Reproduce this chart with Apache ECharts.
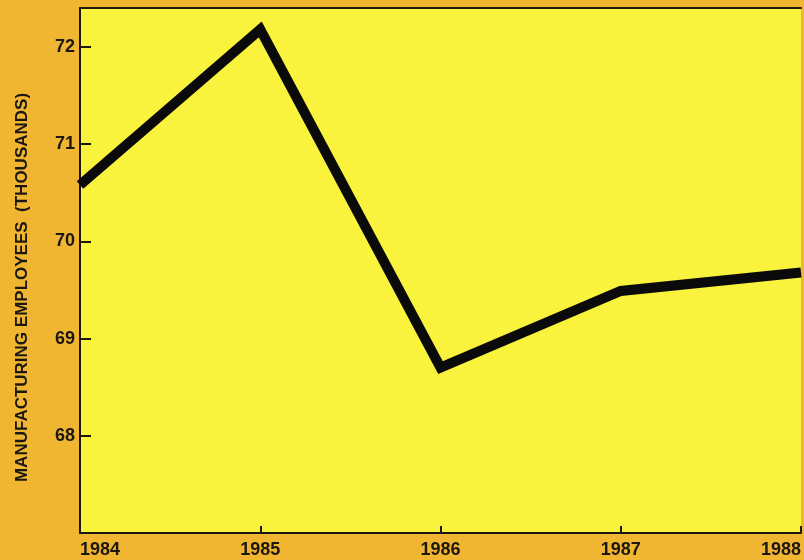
<!DOCTYPE html>
<html>
<head>
<meta charset="utf-8">
<script src="https://cdn.jsdelivr.net/npm/echarts@6/dist/echarts.min.js"></script>
<style>
html,body{margin:0;padding:0;background:#F0B632;}
#chart{width:804px;height:560px;}
</style>
</head>
<body>
<div id="chart"></div>
<script>
var years = ['1984', '1985', '1986', '1987', '1988'];
var employees = [70.58, 72.18, 68.70, 69.49, 69.68];
var yTicks = [68, 69, 70, 71, 72];
var yTitle = 'MANUFACTURING EMPLOYEES  (THOUSANDS)';

var ink = '#1c1710';
var chart = echarts.init(document.getElementById('chart'));
chart.setOption({
  backgroundColor: '#F0B632',
  animation: false,
  grid: {
    left: 80, right: 1, top: 8, bottom: 27,
    show: true, backgroundColor: '#FAF33E', borderWidth: 0
  },
  xAxis: [{
    type: 'category',
    data: years,
    boundaryGap: false,
    axisLine: {show: true, lineStyle: {color: ink, width: 2}},
    axisTick: {show: true, inside: true, length: 7, lineStyle: {color: ink, width: 2}},
    axisLabel: {
      color: ink, fontFamily: 'Liberation Sans', fontWeight: 'bold', fontSize: 18,
      margin: 8, alignMinLabel: 'left', alignMaxLabel: 'right'
    },
    splitLine: {show: false}
  }, {
    type: 'category',
    data: years,
    position: 'top',
    boundaryGap: false,
    axisLine: {show: true, lineStyle: {color: ink, width: 2}},
    axisTick: {show: false},
    axisLabel: {show: false},
    splitLine: {show: false}
  }],
  yAxis: {
    type: 'value',
    min: 67,
    max: 72.4,
    interval: 1,
    name: yTitle,
    nameLocation: 'middle',
    nameRotate: 90,
    nameGap: 49,
    nameTextStyle: {color: ink, fontFamily: 'Liberation Sans', fontWeight: 'bold', fontSize: 17, padding: [0, 34, 0, 0]},
    axisLine: {show: true, lineStyle: {color: ink, width: 2}},
    axisTick: {show: true, inside: true, length: 11, lineStyle: {color: ink, width: 2}},
    axisLabel: {
      color: ink, fontFamily: 'Liberation Sans', fontWeight: 'bold', fontSize: 18, margin: 5,
      showMinLabel: false, showMaxLabel: false,
      formatter: function (v) { return yTicks.indexOf(v) >= 0 ? String(v) : ''; }
    },
    splitLine: {show: false}
  },
  series: [{
    type: 'line',
    data: employees,
    symbol: 'none',
    lineStyle: {color: '#0a0a0a', width: 10, join: 'miter', cap: 'butt'}
  }]
});
</script>
</body>
</html>
